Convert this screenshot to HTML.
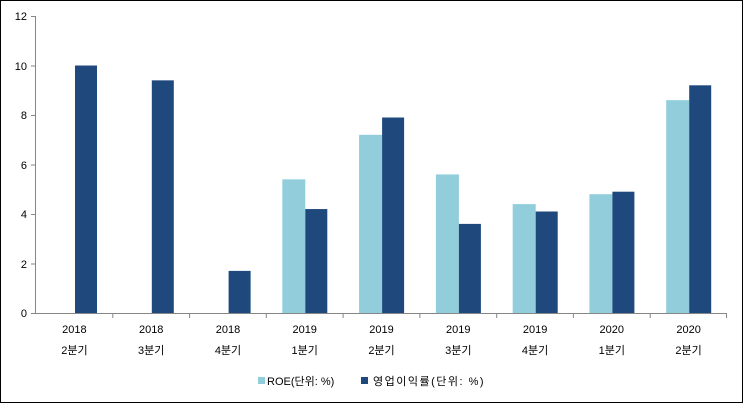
<!DOCTYPE html>
<html><head><meta charset="utf-8"><style>
html,body{margin:0;padding:0;background:#fff}
svg text{font-family:"Liberation Sans","Noto Sans CJK KR",sans-serif;font-size:11px;fill:#000}
</style></head><body>
<svg width="743" height="403" xmlns="http://www.w3.org/2000/svg">
<rect x="0.5" y="0.5" width="742" height="402" fill="#fff" stroke="#000" stroke-width="1"/>
<g stroke="#868686" stroke-width="1">
<line x1="35.5" y1="16" x2="35.5" y2="313"/>
<line x1="35" y1="313.5" x2="727" y2="313.5"/>
<line x1="31" y1="16.5" x2="35" y2="16.5"/>
<line x1="31" y1="66" x2="35" y2="66"/>
<line x1="31" y1="115.5" x2="35" y2="115.5"/>
<line x1="31" y1="165" x2="35" y2="165"/>
<line x1="31" y1="214.5" x2="35" y2="214.5"/>
<line x1="31" y1="264" x2="35" y2="264"/>
<line x1="31" y1="313.5" x2="35" y2="313.5"/>
<line x1="112.8" y1="313" x2="112.8" y2="318"/>
<line x1="189.6" y1="313" x2="189.6" y2="318"/>
<line x1="266.3" y1="313" x2="266.3" y2="318"/>
<line x1="343.1" y1="313" x2="343.1" y2="318"/>
<line x1="419.9" y1="313" x2="419.9" y2="318"/>
<line x1="496.7" y1="313" x2="496.7" y2="318"/>
<line x1="573.4" y1="313" x2="573.4" y2="318"/>
<line x1="650.2" y1="313" x2="650.2" y2="318"/>
<line x1="726.5" y1="313" x2="726.5" y2="318"/>
</g>
<g text-anchor="end">
<text x="27" y="20">12</text><text x="27" y="70">10</text><text x="27" y="119">8</text>
<text x="27" y="169">6</text><text x="27" y="218">4</text><text x="27" y="268">2</text><text x="27" y="317">0</text>
</g>
<g fill="#92CDDC">
<rect x="282.3" y="179.35" width="23" height="133.65"/>
<rect x="359.1" y="134.8" width="23" height="178.2"/>
<rect x="435.9" y="174.4" width="23" height="138.6"/>
<rect x="512.7" y="204.1" width="23" height="108.9"/>
<rect x="589.4" y="194.2" width="23" height="118.8"/>
<rect x="666.2" y="100.15" width="23" height="212.85"/>
</g>
<g fill="#1F497D">
<rect x="75" y="65.5" width="22" height="247.5"/>
<rect x="151.8" y="80.35" width="22" height="232.65"/>
<rect x="228.6" y="270.9" width="22" height="42.1"/>
<rect x="305.3" y="209.05" width="22" height="103.95"/>
<rect x="382.1" y="117.5" width="22" height="195.5"/>
<rect x="458.9" y="223.9" width="22" height="89.1"/>
<rect x="535.7" y="211.5" width="22" height="101.5"/>
<rect x="612.4" y="191.7" width="22" height="121.3"/>
<rect x="689.2" y="85.3" width="22" height="227.7"/>
</g>
<g text-anchor="middle">
<text x="74.4" y="333">2018</text><text x="74.4" y="354">2분기</text>
<text x="151.2" y="333">2018</text><text x="151.2" y="354">3분기</text>
<text x="228" y="333">2018</text><text x="228" y="354">4분기</text>
<text x="304.7" y="333">2019</text><text x="304.7" y="354">1분기</text>
<text x="381.5" y="333">2019</text><text x="381.5" y="354">2분기</text>
<text x="458.3" y="333">2019</text><text x="458.3" y="354">3분기</text>
<text x="535.1" y="333">2019</text><text x="535.1" y="354">4분기</text>
<text x="611.8" y="333">2020</text><text x="611.8" y="354">1분기</text>
<text x="688.6" y="333">2020</text><text x="688.6" y="354">2분기</text>
</g>
<rect x="258" y="377" width="7" height="7" fill="#92CDDC"/>
<text x="267" y="385">ROE(단위: %)</text>
<rect x="361" y="377" width="7" height="7" fill="#1F497D"/>
<text x="373" y="385" letter-spacing="1.5">영업이익률(단위: %)</text>
</svg>
</body></html>
